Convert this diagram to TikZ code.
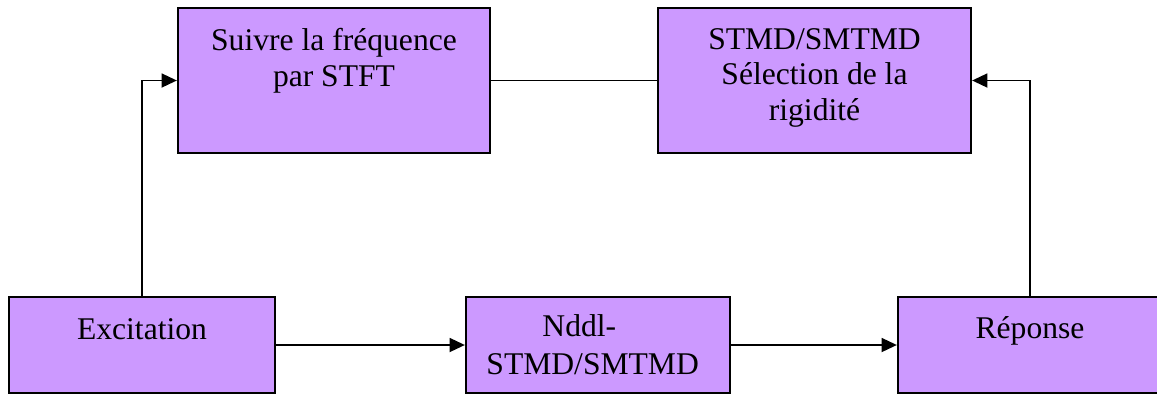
\documentclass[tikz,border=0pt]{standalone}
\usepackage{fontspec}
\setmainfont{Liberation Serif}
\usetikzlibrary{arrows.meta,positioning}
\definecolor{lavande}{HTML}{CC99FF}

\begin{document}
\begin{tikzpicture}[x=0.75pt,y=-0.75pt,>={Triangle[length=11.5pt,width=10.5pt]},
  bloc/.style={draw,line width=1.7pt,fill=lavande,inner sep=0pt},
  texte/.style={inner sep=0pt,align=center,font=\fontsize{23.7}{26.5}\selectfont},
  fleche/.style={line width=1.4pt}]
  \useasboundingbox (0,0) rectangle (1157,394);
  \clip (0,0) rectangle (1157,394);
  \node[bloc,minimum width=199.5pt,minimum height=72pt] (excit) at (142,345) {};
  \node[bloc,minimum width=234pt,minimum height=108.75pt] (suivre) at (334,80.5) {};
  \node[bloc,minimum width=234.75pt,minimum height=108.75pt] (stmd) at (814.5,80.5) {};
  \node[bloc,minimum width=198pt,minimum height=72pt] (nddl) at (598,345) {};
  \node[bloc,minimum width=198pt,minimum height=72pt] (reponse) at (1030,345) {};
  \node[texte,below=16.5pt of excit.north] (excitT) {Excitation};
  \node[texte,below=16pt of suivre.north] (suivreT) {Suivre la fréquence\\par STFT};
  \node[texte,below=16pt of stmd.north] (stmdT) {STMD/SMTMD\\Sélection de la\\rigidité};
  \node[texte,below=13.5pt of nddl.north,xshift=-4pt,font=\fontsize{23.7}{28.5}\selectfont] (nddlT) {Nddl-\hspace*{20pt}\\STMD/SMTMD};
  \node[texte,below=15.5pt of reponse.north] (reponseT) {Réponse};
  \draw[fleche,->] (excit.north) |- (suivre.west);
  \draw[fleche] (suivre.east) -- (stmd.west);
  \draw[fleche,->] (reponse.north) |- (stmd.east);
  \draw[fleche,->] (excit.east) -- (nddl.west);
  \draw[fleche,->] (nddl.east) -- (reponse.west);
\end{tikzpicture}
\end{document}
